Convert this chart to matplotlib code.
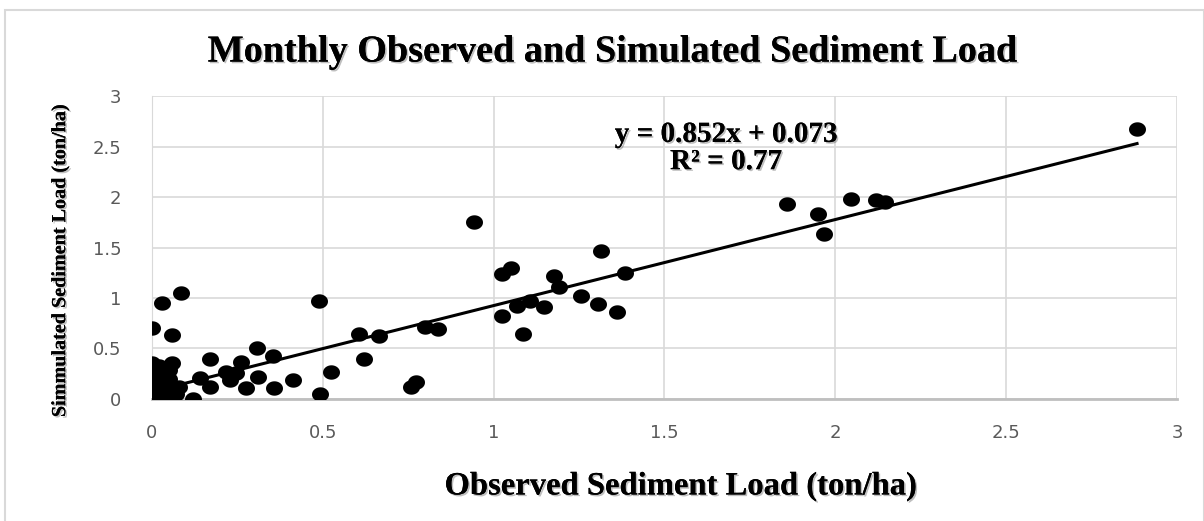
import numpy as np
import matplotlib
matplotlib.use("Agg")
import matplotlib.pyplot as plt
import matplotlib.patheffects as pe

# observed (x) vs simulated (y) monthly sediment load, ton/ha
observed = [
    0.0, 0.0, 0.0, 0.0, 0.0, 0.0, 0.0, 0.0, 0.0, 0.0, 0.0,
    0.01, 0.01, 0.01, 0.02, 0.02, 0.02, 0.03, 0.03, 0.03, 0.04,
    0.05, 0.05, 0.05, 0.06, 0.06, 0.07, 0.08,
    0.028, 0.085, 0.49, 0.0, 0.06, 0.607, 0.665, 0.80, 0.838,
    0.308, 0.355, 0.17, 0.262, 0.62, 0.216, 0.247, 0.31, 0.14,
    0.228, 0.412, 0.524, 0.17, 0.276, 0.357, 0.493, 0.12, 0.758,
    0.772, 0.943, 1.315, 1.052, 1.025, 1.176, 1.383, 1.19, 1.256,
    1.106, 1.069, 1.147, 1.304, 1.361, 1.025, 1.085, 1.859, 1.95,
    1.967, 2.046, 2.12, 2.144, 2.883,
]
simulated = [
    0.36, 0.33, 0.30, 0.25, 0.21, 0.17, 0.13, 0.09, 0.05, 0.02, 0.0,
    0.0, 0.12, 0.28, 0.05, 0.18, 0.33, 0.0, 0.09, 0.25, 0.14,
    0.03, 0.20, 0.29, 0.36, 0.10, 0.05, 0.12,
    0.95, 1.05, 0.97, 0.70, 0.63, 0.645, 0.625, 0.71, 0.69,
    0.50, 0.43, 0.40, 0.37, 0.40, 0.27, 0.255, 0.22, 0.205,
    0.19, 0.19, 0.27, 0.115, 0.105, 0.105, 0.05, 0.0, 0.115,
    0.17, 1.75, 1.47, 1.30, 1.237, 1.22, 1.25, 1.11, 1.02,
    0.97, 0.92, 0.91, 0.94, 0.86, 0.82, 0.64, 1.93, 1.835,
    1.63, 1.98, 1.97, 1.95, 2.67,
]
slope = 0.852
intercept = 0.073
r_squared = 0.77
ticks = [0, 0.5, 1, 1.5, 2, 2.5, 3]

serif = "Liberation Serif"
shadow = [pe.withSimplePatchShadow(offset=(1.2, -1.2), alpha=0.25), pe.Normal()]

fig = plt.figure(figsize=(12.04, 5.21), dpi=100)
ax = fig.add_axes([0.1262, 0.2342, 0.8514, 0.5815])

# slightly wide ellipse marker like the Excel one
t = np.linspace(0, 2 * np.pi, 40)
ell = np.c_[1.18 * np.cos(t), np.sin(t)]
ax.scatter(observed, simulated, marker=ell, s=150, color="black", zorder=3, linewidths=0)

xs = np.array([min(observed), max(observed)])
ax.plot(xs, slope * xs + intercept, color="black", lw=2.2, zorder=4)

ax.set_xlim(0, 3)
ax.set_ylim(0, 3)
ax.set_xticks(ticks)
ax.set_yticks(ticks)
ax.set_xticklabels([f"{v:g}" for v in ticks])
ax.set_yticklabels([f"{v:g}" for v in ticks])
ax.tick_params(length=0, labelsize=13, labelcolor="#595959")
ax.tick_params(axis="x", pad=18)
ax.tick_params(axis="y", pad=22)
ax.grid(color="#d9d9d9", lw=1.2)
ax.set_axisbelow(True)
for s in ["top", "right"]:
    ax.spines[s].set_visible(False)
ax.spines["left"].set_color("#d9d9d9")
ax.spines["bottom"].set_color("#bfbfbf")
ax.spines["bottom"].set_linewidth(2)

fig.text(0.509, 0.90, "Monthly Observed and Simulated Sediment Load", ha="center", va="center",
         family=serif, weight="bold", fontsize=27.5, path_effects=shadow)
fig.text(0.565, 0.067, "Observed Sediment Load (ton/ha)", ha="center", va="center",
         family=serif, weight="bold", fontsize=23.5, path_effects=shadow)
fig.text(0.05, 0.50, "Simmulated Sediment Load (ton/ha)", ha="center", va="center", rotation=90,
         family=serif, weight="bold", fontsize=14.5, path_effects=shadow)

ax.text(1.68, 2.62, f"y = {slope}x + {intercept}", ha="center", va="center",
        family=serif, weight="bold", fontsize=21, path_effects=shadow)
ax.text(1.68, 2.35, f"R² = {r_squared}", ha="center", va="center",
        family=serif, weight="bold", fontsize=21, path_effects=shadow)

# outer chart border
fig.add_artist(plt.Rectangle((0.004, -0.01), 0.996, 0.99, transform=fig.transFigure,
                             fill=False, edgecolor="#d9d9d9", lw=1.5))

fig.savefig("out.png", dpi=100)
